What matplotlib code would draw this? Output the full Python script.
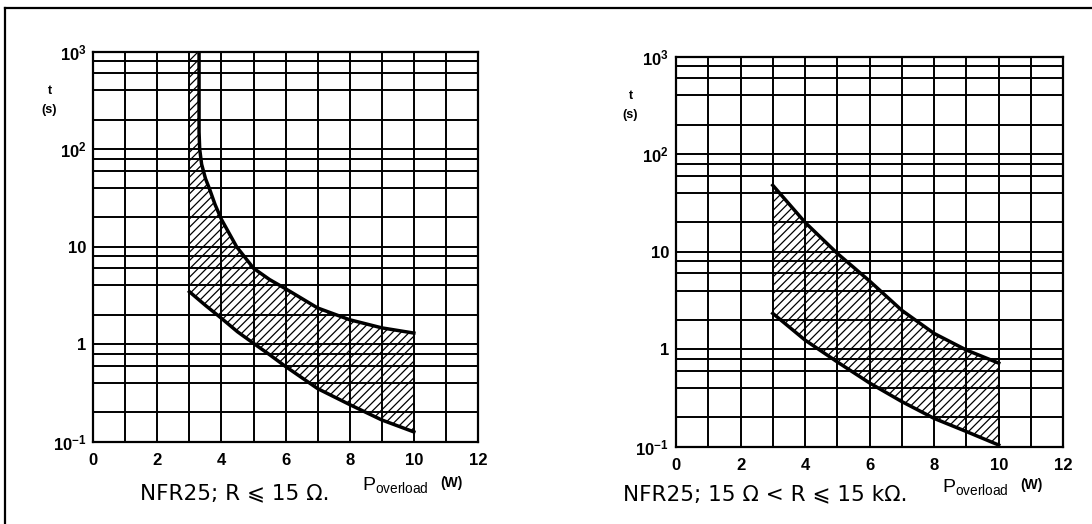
import matplotlib
matplotlib.use('Agg')
import matplotlib.pyplot as plt
from matplotlib.lines import Line2D
from matplotlib.ticker import FixedLocator, NullFormatter

# Axis ticks
x_major = [0, 2, 4, 6, 8, 10, 12]
x_minor = [1, 3, 5, 7, 9, 11]
y_major = [0.1, 1, 10, 100, 1000]
y_major_labels = [r'$\mathregular{10^{-1}}$', '1', '10', r'$\mathregular{10^2}$', r'$\mathregular{10^3}$']
y_minor = [m * d for d in [0.1, 1, 10, 100] for m in [2, 4, 6, 8]]

# Left chart: NFR25, R <= 15 ohm
left_upper_p = [3.3, 3.3, 3.32, 3.38, 3.5, 3.64, 3.8, 4.0, 4.47, 5.0, 5.5, 6.0, 7.0, 8.0, 9.0, 10.0]
left_upper_t = [1000, 150, 100, 70, 50, 38, 27, 19, 10, 6.0, 4.6, 3.7, 2.35, 1.78, 1.47, 1.3]
left_lower_p = [3.0, 3.5, 4.0, 4.5, 5.0, 5.5, 6.0, 7.0, 8.0, 9.0, 10.0]
left_lower_t = [3.45, 2.5, 1.84, 1.34, 1.02, 0.78, 0.59, 0.35, 0.24, 0.167, 0.126]

# Right chart: NFR25, 15 ohm < R <= 15 kohm
right_upper_p = [3.0, 4.0, 5.0, 6.0, 7.0, 8.0, 9.0, 10.0]
right_upper_t = [48, 20, 9.6, 5.0, 2.5, 1.45, 0.98, 0.72]
right_lower_p = [3.0, 4.0, 5.0, 6.0, 7.0, 8.0, 9.0, 10.0]
right_lower_t = [2.33, 1.24, 0.74, 0.45, 0.29, 0.195, 0.143, 0.104]

plt.rcParams['font.family'] = ['Liberation Sans', 'DejaVu Sans']
plt.rcParams['mathtext.fontset'] = 'custom'
plt.rcParams['mathtext.rm'] = 'Liberation Sans'
plt.rcParams['hatch.linewidth'] = 0.9


def setup_axes(ax):
    ax.set_yscale('log')
    ax.set_xlim(0, 12)
    ax.set_ylim(0.1, 1000)
    ax.set_xticks(x_major)
    ax.set_xticks(x_minor, minor=True)
    ax.yaxis.set_major_locator(FixedLocator(y_major))
    ax.yaxis.set_minor_locator(FixedLocator(y_minor))
    ax.yaxis.set_minor_formatter(NullFormatter())
    ax.set_yticklabels(y_major_labels)
    ax.grid(True, which='both', color='black', lw=1.4)
    ax.tick_params(which='both', length=0)
    ax.tick_params(axis='x', pad=8, labelsize=12)
    ax.tick_params(axis='y', pad=5, labelsize=12)
    for lab in ax.get_xticklabels() + ax.get_yticklabels():
        lab.set_fontweight('bold')
    for sp in ax.spines.values():
        sp.set_linewidth(1.6)


def draw_band(ax, up_p, up_t, lo_p, lo_t, top_left=None):
    xs = list(lo_p) + list(up_p[::-1])
    ys = list(lo_t) + list(up_t[::-1])
    if top_left is not None:
        xs.append(top_left[0])
        ys.append(top_left[1])
    ax.fill(xs, ys, facecolor='none', edgecolor='black', hatch='////', linewidth=0, zorder=2)
    ax.plot(up_p, up_t, color='black', lw=2.5, zorder=3)
    ax.plot(lo_p, lo_t, color='black', lw=2.5, zorder=3)


fig = plt.figure(figsize=(10.92, 5.24), dpi=100)
ax1 = fig.add_axes([0.0854, 0.1571, 0.3523, 0.7443])
ax2 = fig.add_axes([0.619, 0.1475, 0.3547, 0.7443])
setup_axes(ax1)
setup_axes(ax2)

draw_band(ax1, left_upper_p, left_upper_t, left_lower_p, left_lower_t, top_left=(3.0, 1000))
draw_band(ax2, right_upper_p, right_upper_t, right_lower_p, right_lower_t)

# y-axis labels
for x, y in [(50, 91), (631, 96)]:
    fig.text(x / 1092, 1 - y / 524, 't', ha='center', va='center', fontsize=9, fontweight='bold')
    fig.text((x - 1) / 1092, 1 - (y + 19) / 524, '(s)', ha='center', va='center', fontsize=9, fontweight='bold')

# x-axis labels
for x, y in [(362, 485), (942, 487)]:
    fig.text(x / 1092, 1 - y / 524, r'$\mathregular{P_{overload}}$', ha='left', va='center', fontsize=14)
    fig.text((x + 78) / 1092, 1 - (y - 2) / 524, '(W)', ha='left', va='center', fontsize=10, fontweight='bold')

# captions
fig.text(235 / 1092, 1 - 493 / 524, 'NFR25; R ⩽ 15 Ω.', ha='center', va='center',
         fontsize=15.5, family=['DejaVu Sans'])
fig.text(765 / 1092, 1 - 494 / 524, 'NFR25; 15 Ω < R ⩽ 15 kΩ.', ha='center', va='center',
         fontsize=15.5, family=['DejaVu Sans'])

# outer frame (left and top edges)
fig.add_artist(Line2D([5 / 1092, 5 / 1092], [0, 1 - 8 / 524], transform=fig.transFigure, color='black', lw=1.6))
fig.add_artist(Line2D([5 / 1092, 1], [1 - 8 / 524, 1 - 8 / 524], transform=fig.transFigure, color='black', lw=1.6))

fig.savefig('out.png', dpi=100)
